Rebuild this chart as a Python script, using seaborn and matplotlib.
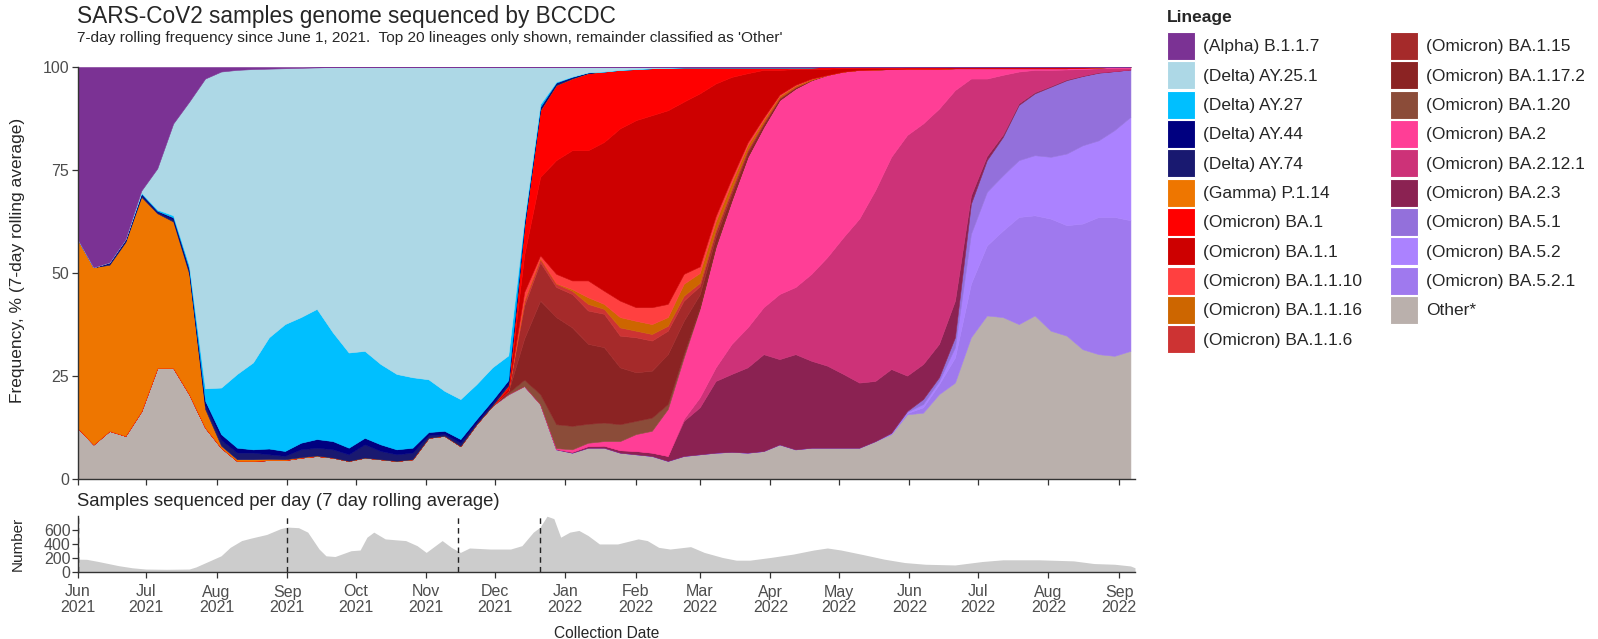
import numpy as np
import pandas as pd
import matplotlib
matplotlib.use("Agg")
import matplotlib.pyplot as plt
import matplotlib.dates as mdates
from matplotlib.patches import Patch
import seaborn as sns

sns.set_theme(style="ticks")
plt.rcParams['font.family'] = ['Liberation Sans', 'DejaVu Sans']

# weekly points, 7-day rolling frequency (%)
dates = pd.date_range("2021-06-01", periods=67, freq="7D")

lineages = ["(Alpha) B.1.1.7", "(Delta) AY.25.1", "(Delta) AY.27", "(Delta) AY.44",
            "(Delta) AY.74", "(Gamma) P.1.14", "(Omicron) BA.1", "(Omicron) BA.1.1",
            "(Omicron) BA.1.1.10", "(Omicron) BA.1.1.16", "(Omicron) BA.1.1.6",
            "(Omicron) BA.1.15", "(Omicron) BA.1.17.2", "(Omicron) BA.1.20",
            "(Omicron) BA.2", "(Omicron) BA.2.12.1", "(Omicron) BA.2.3",
            "(Omicron) BA.5.1", "(Omicron) BA.5.2", "(Omicron) BA.5.2.1", "Other*"]

colors = ["#7B3294", "#ADD8E6", "#00BFFF", "#000080", "#191970", "#EE7600",
          "#FF0000", "#CD0000", "#FF4040", "#CD6600", "#CD3333", "#A52A2A",
          "#8B2323", "#8B4C39", "#FF3E96", "#CD3278", "#8B2252", "#9370DB",
          "#AB82FF", "#9F79EE", "#BAB0AC"]

alpha_b117 = [41.7, 48.6, 47.4, 41.8, 30, 24.6, 13.7, 8.4, 2.8, 1.1, 0.7, 0.5, 0.4, 0.3,
              0.2, 0.1] + [0] * 51
delta_ay25_1 = [0] * 4 + [0.5, 10, 22.3, 39.8, 75.2, 76.7, 73.8, 71.2, 65.2, 62.1, 60.5, 58.6,
                          64.4, 69.3, 68.9, 72.1, 74.5, 75.3, 75.8, 78.6, 80.6, 77, 72.9, 70,
                          37, 9, 3.6, 2.3, 1.3, 1.1, 0.7, 0.5, 0.3, 0.2,
                          0.1, 0.1, 0.1, 0.1, 0.1, 0.1, 0.1, 0.1, 0.1] + [0] * 20
delta_ay27 = [0] * 4 + [0.2, 0.3, 0.5, 0.8, 3, 11.3, 17.9, 21.1, 27, 30.8, 30.5, 31.6,
                        26.4, 23.1, 21.1, 19.5, 18.3, 17.1, 12.8, 9.7, 9.7, 8.5, 8, 6,
                        0.8, 0.7, 0.2, 0.1] + [0] * 35
delta_ay44 = [0] * 2 + [0.3, 0.4, 0.4, 0.3, 0.5, 0.6, 1, 1.4, 1.2, 0.8, 1.4, 1.2, 1.6, 2.1,
                        2.0, 1.6, 1.6, 1.6, 1.2, 1.2, 0.8, 0.8, 0.9, 0.8, 0.8, 0.8,
                        0.6, 0.5, 0.3, 0.2, 0.1] + [0] * 34
delta_ay74 = [0] * 2 + [0.3, 0.3, 0.4, 0.3, 0.5, 0.6, 1, 1.4, 1.6, 1.6, 1.1, 0.8, 1.9, 1.9,
                        2.0, 1.6, 3.2, 2.0, 1.6, 1.6, 0.6, 0.4, 0.8, 0.4, 0.5, 0.5,
                        0.4, 0.3, 0.3, 0.2, 0.1] + [0] * 34
gamma_p1_14 = [45.8, 43, 40.3, 47, 52, 37.5, 35.5, 29.2, 4.5, 0.5, 0.4, 0.4, 0.3, 0.2,
               0.1, 0.1] + [0] * 51
ba1 = [0] * 27 + [0.8, 6.8, 16.2, 18.2, 17.4, 18.7, 17.1, 14.2, 12.4, 11.4,
                  10.3, 8.3, 6.3, 3.9, 2.3, 1.4, 0.6, 0.6, 0.4, 0.3,
                  0.4, 0.3, 0.2, 0.2, 0.2, 0.2, 0.2, 0.2, 0.1, 0.1,
                  0.1, 0.1, 0.1, 0.1, 0.1, 0.1, 0.1] + [0] * 3
ba1_1 = [0] * 27 + [0.5, 9, 19, 27.6, 31.6, 31.6, 36.1, 41.8, 45.4, 46.6,
                    47, 41.8, 42, 32.2, 24.6, 16.8, 11.6, 6, 3.8, 2.4,
                    1.5, 0.8, 0.5, 0.4, 0.3, 0.2, 0.2, 0.2, 0.2, 0.2,
                    0.2, 0.2, 0.2, 0.2, 0.2, 0.2, 0.1, 0.1] + [0] * 2
ba1_1_10 = [0] * 28 + [2, 0.7, 2.3, 2.1, 4.1, 3.2, 4, 3.3, 4.1, 3.2,
                       2.4, 1.6, 1.3, 1.0, 0.7, 0.5, 0.3, 0.2, 0.1] + [0] * 20
ba1_1_16 = [0] * 28 + [0.3, 0.2, 0.1, 0.4, 1.6, 1.2, 2.5, 2.4, 2.4, 2.1,
                       2.9, 2.4, 2.0, 1.5, 1.0, 0.6, 0.4, 0.3, 0.2] + [0] * 20
ba1_1_6 = [0] * 28 + [1, 0.8, 0.8, 0.8, 1.6, 1.2, 2.0, 1.6, 1.6, 1.2,
                      1.2, 0.8, 0.6, 0.5, 0.3, 0.2, 0.1, 0.1] + [0] * 21
ba1_15 = [0] * 27 + [0.2, 8, 9.3, 7.3, 8.1, 8.1, 8.1, 7.7, 8.5, 7.3,
                     5.7, 4.9, 2, 1.2, 0.8, 0.5, 0.3, 0.2, 0.1] + [0] * 21
ba1_17_2 = [0] * 27 + [0.3, 10, 22.7, 26, 23.9, 19.4, 18.3, 13.8, 11.8, 11.4,
                       12.1, 8.1, 3.2, 2.2, 1.5, 1.0, 0.6, 0.3, 0.2, 0.1] + [0] * 20
ba1_20 = [0] * 27 + [0.3, 1.5, 2.4, 5.8, 5.7, 4.6, 4.5, 4.1, 3.2, 3.2,
                     1.2, 0.8, 0.3, 0.2, 0.1] + [0] * 25
ba2 = [0] * 30 + [0.2, 0.6, 0.8, 1.1, 2.2, 4.1, 5.3, 11.4, 14.9, 21.5,
                  29.2, 34.8, 41.4, 43.8, 47.1, 48.2, 47, 44.2, 40.2, 36.1,
                  29.3, 21.3, 16.1, 13.3, 9.7, 5.3, 2.5, 2.5, 1.6, 0.8,
                  0.4, 0.4, 0.3, 0.3, 0.2, 0.2, 0.2]
ba2_12_1 = [0] * 38 + [0.5, 2.4, 3.3, 7.3, 9.7, 11.4, 15.8, 16.3, 21.1, 26.4,
                       33.2, 39.8, 46.3, 51.5, 58.4, 58.4, 57.1, 51.1, 28.4, 18.8,
                       14.5, 7.7, 5.4, 3.9, 2.4, 1.6, 1.0, 0.8, 0.4]
ba2_3 = [0] * 30 + [0.1, 0.2, 0.4, 0.5, 0.6, 0.8, 0.8, 1.2, 8.5, 11.4,
                    17.4, 18.9, 20.7, 23.5, 20.7, 23.1, 21.1, 19.9, 17.9, 15.8,
                    14.6, 15.5, 8.6, 8.5, 8.1, 8.9, 2, 1, 0.6, 0.4,
                    0.3, 0.2, 0.2, 0.1, 0.1] + [0] * 2
ba5_1 = [0] * 51 + [0.1, 0.2, 1.2, 0.9, 2.4, 7.3, 7.7, 9.3, 13.4, 15, 17, 17.8, 16.8, 16.4, 14.3, 11.5]
ba5_2 = [0] * 51 + [0.1, 0.3, 0.8, 0.8, 2.5, 12.1, 13, 13.4, 13.8, 14.6, 15, 17.4, 19, 18.6, 21.1, 25.1]
ba5_2_1 = [0] * 51 + [0.1, 0.3, 1.3, 2.4, 6.1, 13, 17, 21, 26, 24.3, 27.2, 26.8, 30.5, 33.3, 33.7, 31.7]
other = [12.5, 8.4, 11.7, 10.5, 16.5, 27, 27, 20.6, 12.5, 7.6,
         4.4, 4.4, 4.6, 4.6, 5.2, 5.6, 5.2, 4.4, 5.2, 4.8,
         4.4, 4.8, 10, 10.5, 8, 13.3, 17.8, 20.6, 22.6, 18.2,
         7.2, 6.4, 7.6, 7.6, 6.4, 6, 5.6, 4.4, 5.6, 6,
         6.4, 6.6, 6.4, 6.8, 8.4, 7.2, 7.6, 7.6, 7.6, 7.6,
         9.2, 10.9, 15.7, 16.1, 20.6, 23.4, 34.4, 39.7, 39.3, 37.6,
         39.7, 36, 34.8, 31.5, 30.3, 29.9, 31.1]

# samples sequenced per day (7-day rolling average)
sample_dates = ["2021-06-01", "2021-06-05", "2021-06-10", "2021-06-19", "2021-06-25",
                "2021-07-01", "2021-07-10", "2021-07-20", "2021-07-23", "2021-07-29",
                "2021-08-03", "2021-08-07", "2021-08-12", "2021-08-16", "2021-08-23",
                "2021-08-29", "2021-09-01", "2021-09-06", "2021-09-10", "2021-09-15",
                "2021-09-18", "2021-09-22", "2021-09-29", "2021-10-03", "2021-10-06",
                "2021-10-09", "2021-10-14", "2021-10-19", "2021-10-23", "2021-10-28",
                "2021-11-01", "2021-11-05", "2021-11-08", "2021-11-12", "2021-11-16",
                "2021-11-20", "2021-11-29", "2021-12-08", "2021-12-13", "2021-12-18",
                "2021-12-21", "2021-12-24", "2021-12-27", "2021-12-30", "2022-01-03",
                "2022-01-07", "2022-01-11", "2022-01-16", "2022-01-24", "2022-01-30",
                "2022-02-02", "2022-02-06", "2022-02-11", "2022-02-16", "2022-02-20",
                "2022-02-25", "2022-03-03", "2022-03-11", "2022-03-17", "2022-03-23",
                "2022-04-01", "2022-04-11", "2022-04-20", "2022-04-26", "2022-05-02",
                "2022-05-12", "2022-05-21", "2022-05-30", "2022-06-08", "2022-06-21",
                "2022-07-03", "2022-07-12", "2022-07-28", "2022-08-12", "2022-08-21",
                "2022-08-30", "2022-09-06", "2022-09-08"]
sample_counts = [182, 180, 150, 90, 60,
                 42, 38, 42, 72, 158,
                 230, 350, 446, 480, 533,
                 614, 638, 629, 566, 326,
                 230, 220, 302, 312, 494,
                 566, 470, 456, 446, 374,
                 278, 374, 446, 350, 278,
                 341, 326, 326, 374, 566,
                 638, 792, 758, 494, 566,
                 590, 518, 398, 398, 446,
                 470, 446, 350, 326, 341,
                 360, 278, 206, 168, 168,
                 206, 254, 312, 341, 312,
                 245, 182, 134, 110, 100,
                 149, 173, 173, 158, 120,
                 110, 86, 60]

marker_dates = ["2021-06-01", "2021-09-01", "2021-11-15", "2021-12-21"]

# stack from the bottom: Other first, Alpha on top
series = [alpha_b117, delta_ay25_1, delta_ay27, delta_ay44, delta_ay74, gamma_p1_14,
          ba1, ba1_1, ba1_1_10, ba1_1_16, ba1_1_6, ba1_15, ba1_17_2, ba1_20,
          ba2, ba2_12_1, ba2_3, ba5_1, ba5_2, ba5_2_1, other]
freq = np.array(series, dtype=float)
freq = freq / freq.sum(axis=0) * 100

W, H = 1598, 639
fig = plt.figure(figsize=(W / 100, H / 100), dpi=100)
ax = fig.add_axes([77.5 / W, 1 - 479 / H, (1135 - 77.5) / W, (479 - 67) / H])
ax2 = fig.add_axes([77.5 / W, 1 - 572 / H, (1135 - 77.5) / W, (572 - 516) / H], sharex=ax)

polys = ax.stackplot(dates, freq[::-1], colors=colors[::-1], linewidth=0.4)
for p, c in zip(polys, colors[::-1]):
    p.set_edgecolor(c)

tick_col = "#4D4D4D"
xmin, xmax = pd.Timestamp("2021-06-01"), pd.Timestamp("2022-09-08")
ax.set_xlim(xmin, xmax)
ax.set_ylim(0, 100)
ax.set_yticks([0, 25, 50, 75, 100])
ax.xaxis.set_major_locator(mdates.MonthLocator())
ax.xaxis.set_major_formatter(mdates.DateFormatter("%b\n%Y"))
ax.tick_params(axis="x", labelbottom=False)

sdates = pd.to_datetime(sample_dates)
ax2.fill_between(sdates, sample_counts, color="#CCCCCC", linewidth=0)
for d in marker_dates:
    ax2.axvline(pd.Timestamp(d), color="#222222", linestyle=(0, (4, 3)), linewidth=1)
ax2.set_ylim(0, 795)
ax2.set_yticks([0, 200, 400, 600])

for a in (ax, ax2):
    a.set_xlabel("")
    a.set_ylabel("")
    a.grid(False)
    a.set_facecolor("white")
    for s in ("left", "bottom"):
        a.spines[s].set_color("#333333")
        a.spines[s].set_linewidth(1.0)
    a.tick_params(direction="out", length=4, width=0.9, color="#333333",
                  labelcolor=tick_col, labelsize=11.5, pad=2)
sns.despine(ax=ax)
sns.despine(ax=ax2)
ax2.tick_params(axis="x", labelbottom=True, pad=5)
ax2.tick_params(axis="y", pad=1)
for lab in ax2.get_xticklabels():
    lab.set_linespacing(1.0)

fig.text(77 / W, 1 - 17 / H, "SARS-CoV2 samples genome sequenced by BCCDC",
         fontsize=16.3, va="center", ha="left")
fig.text(77 / W, 1 - 38 / H,
         "7-day rolling frequency since June 1, 2021.  Top 20 lineages only shown, "
         "remainder classified as 'Other'", fontsize=11.1, va="center", ha="left")
fig.text(77 / W, 1 - 502 / H, "Samples sequenced per day (7 day rolling average)",
         fontsize=13.3, va="center", ha="left")
fig.text(18 / W, 1 - 260 / H, "Frequency, % (7-day rolling average)", rotation=90,
         fontsize=12.5, va="center", ha="center")
fig.text(18 / W, 1 - 544 / H, "Number", rotation=90, fontsize=11, va="center", ha="center")
fig.text((77.5 + 1135) / 2 / W, 1 - 633 / H, "Collection Date", fontsize=11.2,
         va="center", ha="center")

handles = [Patch(facecolor=c, edgecolor="white", linewidth=0.8) for c in colors]
leg = fig.legend(handles, lineages, loc="upper left", bbox_to_anchor=(1167 / W, 1 - 10 / H),
                 ncol=2, frameon=False, title="Lineage", fontsize=12.5,
                 title_fontproperties={"weight": "bold", "size": 12.5},
                 handlelength=1.61, handleheight=2.1, handletextpad=0.46,
                 labelspacing=0.08, columnspacing=1.6, borderaxespad=0, borderpad=0)
leg._legend_box.align = "left"
leg._legend_box.sep = 5

fig.savefig("out.png", dpi=100)
